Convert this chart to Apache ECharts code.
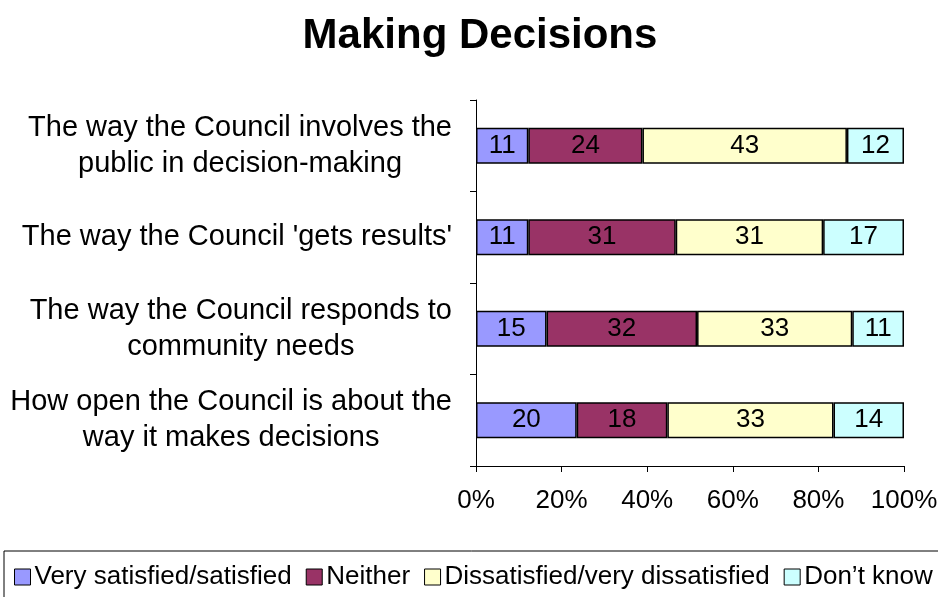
<!DOCTYPE html>
<html>
<head>
<meta charset="utf-8">
<title>Making Decisions</title>
<script src="https://cdn.jsdelivr.net/npm/echarts@6/dist/echarts.min.js"></script>
<style>
  html, body { margin: 0; padding: 0; background: #fff; }
  #chart { width: 938px; height: 597px; }
</style>
</head>
<body>
<div id="chart"></div>
<script>
// Survey statements, listed top to bottom
const categories = [
  'The way the Council involves the\npublic in decision-making',
  "The way the Council 'gets results'",
  'The way the Council responds to\ncommunity needs',
  'How open the Council is about the\nway it makes decisions'
];

const seriesNames = [
  'Very satisfied/satisfied',
  'Neither',
  'Dissatisfied/very dissatisfied',
  'Don\u2019t know'
];

// Responses (%) per statement
const satisfied    = [11, 11, 15, 20];
const neither      = [24, 31, 32, 18];
const dissatisfied = [43, 31, 33, 33];
const dontKnow     = [12, 17, 11, 14];

const xTickLabels = ['0%', '20%', '40%', '60%', '80%', '100%'];

const colors = ['#9999FF', '#993366', '#FFFFCC', '#CCFFFF'];

const rawSeries = [satisfied, neither, dissatisfied, dontKnow];

// Each bar is scaled to 100% of its row total
const rowTotals = categories.map((_, i) =>
  rawSeries.reduce((sum, arr) => sum + arr[i], 0));

const FONT = '"Liberation Sans", Arial, Helvetica, sans-serif';

const series = rawSeries.map((arr, s) => ({
  name: seriesNames[s],
  type: 'bar',
  stack: 'total',
  barWidth: 36,
  data: arr.map((v, i) => v / rowTotals[i] * 100),
  itemStyle: { color: colors[s], borderColor: '#000', borderWidth: 1.5 },
  label: {
    show: true,
    position: 'inside',
    color: '#000',
    fontFamily: FONT,
    fontSize: 26,
    formatter: p => String(arr[p.dataIndex])
  },
  emphasis: { disabled: true }
}));

const chart = echarts.init(document.getElementById('chart'), null, { renderer: 'canvas' });

chart.setOption({
  animation: false,
  backgroundColor: '#fff',
  title: {
    text: 'Making Decisions',
    left: 475,
    top: 10,
    textAlign: 'center',
    textStyle: { fontFamily: FONT, fontWeight: 'bold', fontSize: 42, color: '#000' }
  },
  legend: {
    left: 4,
    top: 551,
    width: 1100,
    padding: [13, 10, 20, 10],
    borderColor: '#000',
    borderWidth: 1,
    itemWidth: 16,
    itemHeight: 16,
    itemGap: 14,
    icon: 'rect',
    itemStyle: { borderColor: '#000', borderWidth: 1 },
    textStyle: { fontFamily: FONT, fontSize: 26, color: '#000', padding: [0, 0, 0, -1] },
    data: seriesNames
  },
  grid: { left: 476, right: 34, top: 100, bottom: 131, containLabel: false, outerBoundsMode: 'none' },
  xAxis: {
    type: 'value',
    min: 0,
    max: 100,
    interval: 20,
    axisLine: { show: true, lineStyle: { color: '#000', width: 1 } },
    axisTick: { show: true, length: 6, lineStyle: { color: '#000' } },
    splitLine: { show: false },
    axisLabel: {
      color: '#000',
      fontFamily: FONT,
      fontSize: 26,
      margin: 22,
      formatter: v => xTickLabels[Math.round(v / 20)]
    }
  },
  yAxis: {
    type: 'category',
    inverse: true,
    data: categories,
    axisLine: { show: true, lineStyle: { color: '#000', width: 1 } },
    axisTick: { show: true, length: 6, alignWithLabel: false, lineStyle: { color: '#000' } },
    axisLabel: {
      color: '#000',
      fontFamily: FONT,
      fontSize: 29,
      lineHeight: 36,
      margin: 24,
      formatter: v => v.split('\n').map(l => '{c|' + l + '}').join('\n'),
      rich: {
        c: { align: 'center', fontFamily: FONT, fontSize: 29, lineHeight: 36, color: '#000' }
      }
    }
  },
  series: series
});
</script>
</body>
</html>
